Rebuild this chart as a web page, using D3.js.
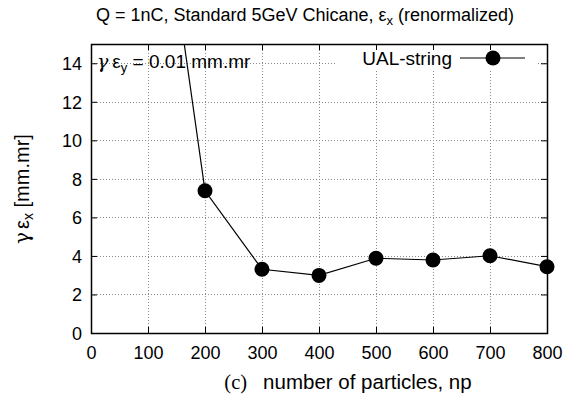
<!DOCTYPE html>
<html>
<head>
<meta charset="utf-8">
<script src="https://cdn.jsdelivr.net/npm/d3@7"></script>
<style>
  html, body { margin: 0; padding: 0; background: #fff; }
  svg { display: block; font-family: "Liberation Sans", Arial, sans-serif; }
</style>
</head>
<body>
<svg id="chart" width="567" height="398"></svg>
<script>
// Emittance vs. number of macro-particles (UAL-string)
const particles = [100, 200, 300, 400, 500, 600, 700, 800];
const emittance = [28.3, 7.38, 3.31, 2.99, 3.88, 3.79, 4.01, 3.44];
const xTicks = [0, 100, 200, 300, 400, 500, 600, 700, 800];
const yTicks = [0, 2, 4, 6, 8, 10, 12, 14];
const seriesName = "UAL-string";

const svg = d3.select("#chart");
const m = { left: 91, right: 547, top: 44, bottom: 333 };

const x = d3.scaleLinear().domain([0, 800]).range([m.left, m.right]);
const y = d3.scaleLinear().domain([0, 15]).range([m.bottom, m.top]);

svg.append("defs").append("clipPath").attr("id", "plotclip")
  .append("rect")
  .attr("x", m.left).attr("y", m.top)
  .attr("width", m.right - m.left).attr("height", m.bottom - m.top);

// grid
const grid = svg.append("g").attr("stroke", "#8a8a8a").attr("stroke-width", 1)
  .attr("stroke-dasharray", "1,2");
grid.selectAll("line.gx").data(xTicks.slice(1, -1)).join("line")
  .attr("x1", d => Math.round(x(d)) + 0.5).attr("x2", d => Math.round(x(d)) + 0.5)
  .attr("y1", m.top).attr("y2", m.bottom);
grid.selectAll("line.gy").data(yTicks.slice(1)).join("line")
  .attr("y1", d => Math.round(y(d)) + 0.5).attr("y2", d => Math.round(y(d)) + 0.5)
  .attr("x1", m.left).attr("x2", m.right);

// key background
svg.append("rect").attr("x", 337).attr("y", m.top + 1).attr("width", 199).attr("height", 25)
  .attr("fill", "#fff");

// axes with inward ticks, mirrored on the opposite sides
const tl = 6;
const axB = svg.append("g").attr("transform", `translate(0,${m.bottom})`)
  .call(d3.axisBottom(x).tickValues(xTicks).tickSizeInner(-tl).tickSizeOuter(0).tickPadding(13));
const axT = svg.append("g").attr("transform", `translate(0,${m.top})`)
  .call(d3.axisTop(x).tickValues(xTicks).tickSizeInner(-tl).tickSizeOuter(0).tickFormat(""));
const axL = svg.append("g").attr("transform", `translate(${m.left},0)`)
  .call(d3.axisLeft(y).tickValues(yTicks).tickSizeInner(-tl).tickSizeOuter(0).tickPadding(9));
const axR = svg.append("g").attr("transform", `translate(${m.right},0)`)
  .call(d3.axisRight(y).tickValues(yTicks).tickSizeInner(-tl).tickSizeOuter(0).tickFormat(""));
[axB, axT, axL, axR].forEach(a => {
  a.select(".domain").remove();
  a.selectAll("line").attr("stroke", "#000").attr("stroke-width", 1);
  a.selectAll("text").attr("font-size", 18).attr("fill", "#000")
    .attr("font-family", "Liberation Sans, Arial, sans-serif");
});
axL.selectAll("text").attr("dy", "0.36em");

// frame
svg.append("rect").attr("x", m.left + 0.5).attr("y", m.top + 0.5)
  .attr("width", m.right - m.left).attr("height", m.bottom - m.top)
  .attr("fill", "none").attr("stroke", "#000").attr("stroke-width", 1.5);

// data: the line is clipped to the frame, markers are drawn only inside the y range
const pts = particles.map((p, i) => [p, emittance[i]]);
svg.append("g").attr("clip-path", "url(#plotclip)")
  .append("path").datum(pts)
  .attr("d", d3.line().x(d => x(d[0])).y(d => y(d[1])))
  .attr("fill", "none").attr("stroke", "#000").attr("stroke-width", 1.2);
svg.append("g").selectAll("circle").data(pts.filter(d => d[1] <= y.domain()[1])).join("circle")
  .attr("cx", d => x(d[0])).attr("cy", d => y(d[1])).attr("r", 7.5).attr("fill", "#000");

// key
svg.append("text").attr("x", 452).attr("y", 65).attr("text-anchor", "end")
  .attr("font-size", 19).text(seriesName);
svg.append("line").attr("x1", 460).attr("x2", 525).attr("y1", 58).attr("y2", 58)
  .attr("stroke", "#000").attr("stroke-width", 1.2);
svg.append("circle").attr("cx", 493).attr("cy", 58).attr("r", 7.5).attr("fill", "#000");

// annotation
const ann = svg.append("text").attr("x", 97).attr("y", 68).attr("font-size", 19);
ann.append("tspan").attr("font-family", "DejaVu Serif, serif").attr("font-style", "italic").text("γ");
ann.append("tspan").attr("dx", 4).text("ε");
ann.append("tspan").attr("font-size", 13).attr("dy", 4).text("y");
ann.append("tspan").attr("dy", -4).text(" = 0.01 mm.mr");

// title
const title = svg.append("text").attr("x", 305).attr("y", 21).attr("text-anchor", "middle")
  .attr("font-size", 18);
title.append("tspan").text("Q = 1nC, Standard 5GeV Chicane, ε");
title.append("tspan").attr("font-size", 13).attr("dy", 4).text("x");
title.append("tspan").attr("dy", -4).text(" (renormalized)");

// y label
const yl = svg.append("text").attr("transform", "translate(29,189) rotate(-90)")
  .attr("text-anchor", "middle").attr("font-size", 20);
yl.append("tspan").attr("font-family", "DejaVu Serif, serif").text("γ");
yl.append("tspan").attr("dx", 3).text("ε");
yl.append("tspan").attr("font-size", 14).attr("dy", 4).text("x");
yl.append("tspan").attr("dy", -4).text(" [mm.mr]");

// x label
const xl = svg.append("text").attr("x", 348).attr("y", 389).attr("text-anchor", "middle")
  .attr("font-size", 20.5);
xl.append("tspan").attr("font-family", "Liberation Serif, Times New Roman, serif").text("(c)");
xl.append("tspan").attr("dx", 16).text("number of particles, np");
</script>
</body>
</html>
